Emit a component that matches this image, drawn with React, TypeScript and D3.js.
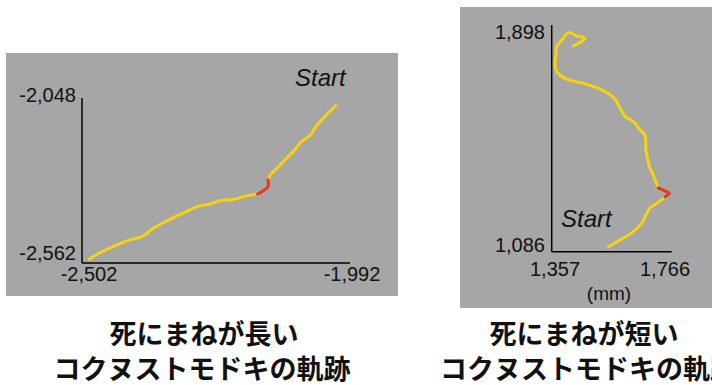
import React from "react";
import * as d3 from "d3";

// Left panel: long death-feigning beetle trajectory (mm)
const leftXTicks = [-2502, -1992];
const leftYTicks = [-2562, -2048];
const leftTrackA: [number, number][] = [
  [-2019, -2072], [-2040, -2106], [-2059, -2142], [-2065, -2160], [-2084, -2184],
  [-2100, -2215], [-2116, -2241], [-2131, -2267], [-2144, -2288], [-2147, -2303], [-2148, -2303],
];
const leftTrackRed: [number, number][] = [
  [-2148, -2303], [-2148, -2324], [-2157, -2337], [-2168, -2347],
];
const leftTrackB: [number, number][] = [
  [-2168, -2347], [-2189, -2353], [-2214, -2364], [-2239, -2368], [-2258, -2378],
  [-2284, -2387], [-2303, -2402], [-2325, -2418], [-2347, -2436], [-2369, -2457],
  [-2388, -2480], [-2411, -2490], [-2436, -2506], [-2468, -2530], [-2488, -2550],
];

// Right panel: short death-feigning beetle trajectory (mm)
const rightXTicks = [1357, 1766];
const rightYTicks = [1086, 1898];
const rightTrackA: [number, number][] = [
  [1550, 1104], [1590, 1128], [1635, 1158], [1664, 1188], [1681, 1224],
  [1692, 1243], [1715, 1259], [1737, 1277], [1743, 1283],
];
const rightTrackRed: [number, number][] = [
  [1743, 1283], [1758, 1295], [1749, 1301], [1720, 1315],
];
const rightTrackB: [number, number][] = [
  [1720, 1315], [1709, 1343], [1703, 1361], [1692, 1386], [1685, 1415], [1678, 1450],
  [1675, 1504], [1658, 1522], [1641, 1546], [1624, 1560], [1607, 1570], [1590, 1600],
  [1573, 1632], [1550, 1653], [1522, 1668], [1493, 1680], [1465, 1689], [1431, 1697],
  [1402, 1707], [1374, 1731], [1368, 1761], [1372, 1791], [1374, 1820], [1391, 1844],
  [1416, 1871], [1442, 1859], [1470, 1850], [1453, 1835], [1431, 1823],
];

const leftTitle = ["死にまねが長い", "コクヌストモドキの軌跡"];
const rightTitle = ["死にまねが短い", "コクヌストモドキの軌跡"];
const startLabel = "Start";
const unitLabel = "(mm)";

const GRAY = "#a6a6a6";
const YELLOW = "#f6d20f";
const RED = "#e8381c";
const FONT = "'Liberation Sans', Arial, sans-serif";
const JFONT = "'Noto Sans CJK JP', sans-serif";

const fmt = d3.format(",");

export default function App() {
  const lx = d3.scaleLinear().domain(leftXTicks).range([82, 350]);
  const ly = d3.scaleLinear().domain(leftYTicks).range([263, 98]);
  const lLine = d3.line<[number, number]>().x((d) => lx(d[0])).y((d) => ly(d[1])).curve(d3.curveCatmullRom);

  const rx = d3.scaleLinear().domain(rightXTicks).range([551.7, 671.7]);
  const ry = d3.scaleLinear().domain(rightYTicks).range([251.7, 25]);
  const rLine = d3.line<[number, number]>().x((d) => rx(d[0])).y((d) => ry(d[1])).curve(d3.curveCatmullRom);

  const tick = { fontFamily: FONT, fontSize: 20, fill: "#111" } as const;
  const title = { fontFamily: JFONT, fontSize: 27, fontWeight: 700, fill: "#111" } as const;
  const pathStyle = { fill: "none", strokeWidth: 3, strokeLinecap: "round", strokeLinejoin: "round" } as const;

  return (
    <svg width={712} height={385} style={{ position: "absolute", left: 0, top: 0, background: "#fff" }}>
      {/* Left panel */}
      <rect x={6} y={53} width={392} height={243} fill={GRAY} />
      <line x1={lx(leftXTicks[0])} x2={lx(leftXTicks[0])} y1={ly(leftYTicks[1])} y2={ly(leftYTicks[0])} stroke="#000" strokeWidth={1.5} />
      <line x1={lx(leftXTicks[0])} x2={lx(leftXTicks[1])} y1={ly(leftYTicks[0])} y2={ly(leftYTicks[0])} stroke="#000" strokeWidth={1.5} />
      {leftYTicks.map((v, i) => (
        <text key={v} x={76} y={i === 0 ? 253 : 95} textAnchor="end" dominantBaseline="central" {...tick}>{fmt(v).replace("−", "-")}</text>
      ))}
      {leftXTicks.map((v, i) => (
        <text key={v} x={i === 0 ? 89 : 352} y={274} textAnchor="middle" dominantBaseline="central" {...tick}>{fmt(v).replace("−", "-")}</text>
      ))}
      <path d={lLine(leftTrackA) || ""} stroke={YELLOW} {...pathStyle} />
      <path d={lLine(leftTrackB) || ""} stroke={YELLOW} {...pathStyle} />
      <path d={lLine(leftTrackRed) || ""} stroke={RED} {...pathStyle} />
      <text x={295} y={77} dominantBaseline="central" fontFamily={FONT} fontSize={24} fontStyle="italic" fill="#111">{startLabel}</text>

      {/* Right panel */}
      <rect x={460} y={7} width={260} height={301} fill={GRAY} />
      <line x1={rx(rightXTicks[0])} x2={rx(rightXTicks[0])} y1={ry(rightYTicks[1])} y2={ry(rightYTicks[0])} stroke="#000" strokeWidth={1.5} />
      <line x1={rx(rightXTicks[0])} x2={rx(rightXTicks[1])} y1={ry(rightYTicks[0])} y2={ry(rightYTicks[0])} stroke="#000" strokeWidth={1.5} />
      {rightYTicks.map((v, i) => (
        <text key={v} x={545} y={i === 0 ? 245 : 32} textAnchor="end" dominantBaseline="central" {...tick}>{fmt(v)}</text>
      ))}
      {rightXTicks.map((v, i) => (
        <text key={v} x={i === 0 ? 555 : 665} y={269} textAnchor="middle" dominantBaseline="central" {...tick}>{fmt(v)}</text>
      ))}
      <text x={609} y={293} textAnchor="middle" dominantBaseline="central" fontFamily={FONT} fontSize={19} fill="#111">{unitLabel}</text>
      <path d={rLine(rightTrackA) || ""} stroke={YELLOW} {...pathStyle} />
      <path d={rLine(rightTrackB) || ""} stroke={YELLOW} {...pathStyle} />
      <path d={rLine(rightTrackRed) || ""} stroke={RED} {...pathStyle} />
      <text x={561} y={218} dominantBaseline="central" fontFamily={FONT} fontSize={24} fontStyle="italic" fill="#111">{startLabel}</text>

      {/* Titles */}
      <text x={204} y={332} textAnchor="middle" dominantBaseline="central" {...title}>{leftTitle[0]}</text>
      <text x={202} y={367} textAnchor="middle" dominantBaseline="central" {...title}>{leftTitle[1]}</text>
      <text x={584} y={332} textAnchor="middle" dominantBaseline="central" {...title}>{rightTitle[0]}</text>
      <text x={440} y={367} textAnchor="start" dominantBaseline="central" {...title}>{rightTitle[1]}</text>
    </svg>
  );
}
